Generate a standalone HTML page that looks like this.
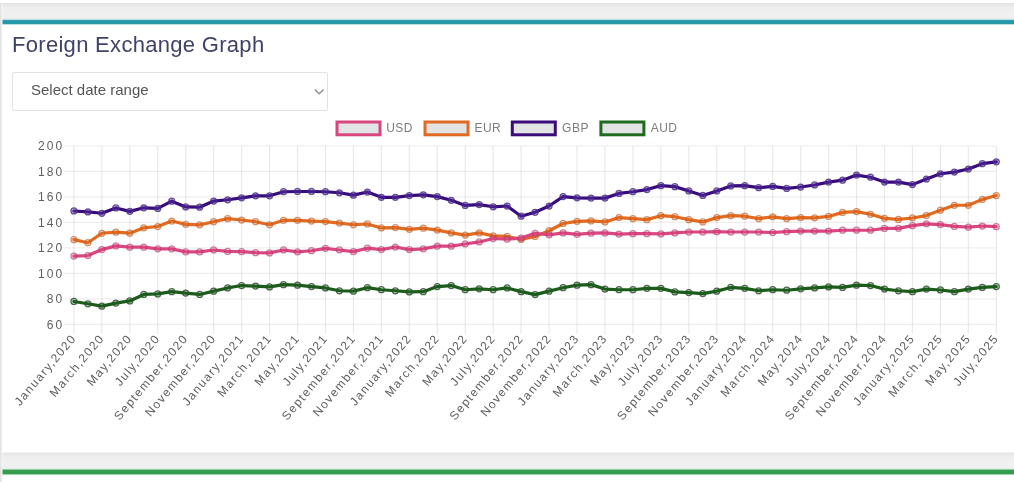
<!DOCTYPE html>
<html><head><meta charset="utf-8">
<style>
html,body{margin:0;padding:0;background:#fff;}
body{width:1014px;height:482px;overflow:hidden;position:relative;font-family:"Liberation Sans",sans-serif;}
.title{position:absolute;left:12px;top:31.5px;font-size:22px;color:#3f4365;white-space:nowrap;letter-spacing:0.3px;}
.sel{position:absolute;left:12px;top:72px;width:314px;height:37px;border:1px solid #e2e2e2;border-radius:2px;background:#fff;}
.sel span{position:absolute;left:18px;top:7.8px;font-size:15px;color:#555;white-space:nowrap;}
.topband{position:absolute;left:0;top:0;width:1014px;height:26px;background:linear-gradient(to bottom,#fff 0px,#fff 2.5px,#e3e3e3 3.5px,#e9e9e9 5px,#eeeeee 8px,#f0f0f0 18px,#d8eaee 19.3px,#279aab 20.6px,#2297a9 22.2px,#279aab 23.5px,#c8e9ed 24.6px,#fff 25.3px);}
.leftstrip{position:absolute;left:0;top:3px;width:3px;height:479px;background:linear-gradient(to right,#e0e0e0 0px,#e6e6e6 1px,#f6f6f6 2px,rgba(255,255,255,0) 3px);}
.botband{position:absolute;left:0;top:452px;width:1014px;height:30px;background:linear-gradient(to bottom,#fff 0px,#e5e5e5 1px,#ebebeb 3px,#efefef 6px,#f0f0f0 15px,#e0f0e3 16.8px,#389d51 18.3px,#349b4e 20px,#389d51 21.7px,#d5efd9 22.9px,#fff 23.6px);}
svg{position:absolute;left:0;top:0;}
.yl{font-size:12px;fill:#5f5f5f;text-anchor:end;letter-spacing:2.1px;}
.xl{font-size:12px;fill:#5f5f5f;text-anchor:end;letter-spacing:1.4px;}
.lg{font-size:12px;fill:#7c7c7c;letter-spacing:0.5px;}
</style></head>
<body>
<div id="wrap" style="position:absolute;left:0;top:0;width:1014px;height:482px;filter:blur(0.4px);">
<div class="topband"></div>
<div class="botband"></div>
<div class="leftstrip"></div>
<div class="title">Foreign Exchange Graph</div>
<div class="sel"><span>Select date range</span></div>
<svg width="1014" height="482" viewBox="0 0 1014 482" style="font-family:'Liberation Sans',sans-serif">
<path d="M314.8 89.5 L319.2 93.8 L323.6 89.5" fill="none" stroke="#8c8c8c" stroke-width="1.3"/>
<rect x="337.00" y="122" width="43" height="12.8" fill="#e2e3e3" stroke="#d9467f" stroke-width="3"/>
<text x="386.20" y="132.2" class="lg">USD</text>
<rect x="425.00" y="122" width="43" height="12.8" fill="#e2e3e3" stroke="#e06a22" stroke-width="3"/>
<text x="474.40" y="132.2" class="lg">EUR</text>
<rect x="512.30" y="122" width="43" height="12.8" fill="#e2e3e3" stroke="#3a0c7a" stroke-width="3"/>
<text x="562.10" y="132.2" class="lg">GBP</text>
<rect x="600.90" y="122" width="43" height="12.8" fill="#e2e3e3" stroke="#1e6a1e" stroke-width="3"/>
<text x="650.70" y="132.2" class="lg">AUD</text>
<line x1="63.3" y1="145.90" x2="996.30" y2="145.90" stroke="rgba(0,0,0,0.065)" stroke-width="1.2"/>
<text x="64.4" y="150.10" class="yl">200</text>
<line x1="63.3" y1="171.39" x2="996.30" y2="171.39" stroke="rgba(0,0,0,0.065)" stroke-width="1.2"/>
<text x="64.4" y="175.59" class="yl">180</text>
<line x1="63.3" y1="196.87" x2="996.30" y2="196.87" stroke="rgba(0,0,0,0.065)" stroke-width="1.2"/>
<text x="64.4" y="201.07" class="yl">160</text>
<line x1="63.3" y1="222.36" x2="996.30" y2="222.36" stroke="rgba(0,0,0,0.065)" stroke-width="1.2"/>
<text x="64.4" y="226.56" class="yl">140</text>
<line x1="63.3" y1="247.84" x2="996.30" y2="247.84" stroke="rgba(0,0,0,0.065)" stroke-width="1.2"/>
<text x="64.4" y="252.04" class="yl">120</text>
<line x1="63.3" y1="273.33" x2="996.30" y2="273.33" stroke="rgba(0,0,0,0.065)" stroke-width="1.2"/>
<text x="64.4" y="277.53" class="yl">100</text>
<line x1="63.3" y1="298.81" x2="996.30" y2="298.81" stroke="rgba(0,0,0,0.065)" stroke-width="1.2"/>
<text x="64.4" y="303.01" class="yl">80</text>
<line x1="63.3" y1="324.30" x2="996.30" y2="324.30" stroke="rgba(0,0,0,0.065)" stroke-width="1.2"/>
<text x="64.4" y="328.50" class="yl">60</text>
<line x1="73.90" y1="145.90" x2="73.90" y2="333.8" stroke="rgba(0,0,0,0.085)" stroke-width="1.2"/>
<text class="xl" transform="translate(76.90,338.5) rotate(-50)">January,2020</text>
<line x1="101.85" y1="145.90" x2="101.85" y2="333.8" stroke="rgba(0,0,0,0.085)" stroke-width="1.2"/>
<text class="xl" transform="translate(104.85,338.5) rotate(-50)">March,2020</text>
<line x1="129.80" y1="145.90" x2="129.80" y2="333.8" stroke="rgba(0,0,0,0.085)" stroke-width="1.2"/>
<text class="xl" transform="translate(132.80,338.5) rotate(-50)">May,2020</text>
<line x1="157.75" y1="145.90" x2="157.75" y2="333.8" stroke="rgba(0,0,0,0.085)" stroke-width="1.2"/>
<text class="xl" transform="translate(160.75,338.5) rotate(-50)">July,2020</text>
<line x1="185.71" y1="145.90" x2="185.71" y2="333.8" stroke="rgba(0,0,0,0.085)" stroke-width="1.2"/>
<text class="xl" transform="translate(188.71,338.5) rotate(-50)">September,2020</text>
<line x1="213.66" y1="145.90" x2="213.66" y2="333.8" stroke="rgba(0,0,0,0.085)" stroke-width="1.2"/>
<text class="xl" transform="translate(216.66,338.5) rotate(-50)">November,2020</text>
<line x1="241.61" y1="145.90" x2="241.61" y2="333.8" stroke="rgba(0,0,0,0.085)" stroke-width="1.2"/>
<text class="xl" transform="translate(244.61,338.5) rotate(-50)">January,2021</text>
<line x1="269.56" y1="145.90" x2="269.56" y2="333.8" stroke="rgba(0,0,0,0.085)" stroke-width="1.2"/>
<text class="xl" transform="translate(272.56,338.5) rotate(-50)">March,2021</text>
<line x1="297.51" y1="145.90" x2="297.51" y2="333.8" stroke="rgba(0,0,0,0.085)" stroke-width="1.2"/>
<text class="xl" transform="translate(300.51,338.5) rotate(-50)">May,2021</text>
<line x1="325.46" y1="145.90" x2="325.46" y2="333.8" stroke="rgba(0,0,0,0.085)" stroke-width="1.2"/>
<text class="xl" transform="translate(328.46,338.5) rotate(-50)">July,2021</text>
<line x1="353.42" y1="145.90" x2="353.42" y2="333.8" stroke="rgba(0,0,0,0.085)" stroke-width="1.2"/>
<text class="xl" transform="translate(356.42,338.5) rotate(-50)">September,2021</text>
<line x1="381.37" y1="145.90" x2="381.37" y2="333.8" stroke="rgba(0,0,0,0.085)" stroke-width="1.2"/>
<text class="xl" transform="translate(384.37,338.5) rotate(-50)">November,2021</text>
<line x1="409.32" y1="145.90" x2="409.32" y2="333.8" stroke="rgba(0,0,0,0.085)" stroke-width="1.2"/>
<text class="xl" transform="translate(412.32,338.5) rotate(-50)">January,2022</text>
<line x1="437.27" y1="145.90" x2="437.27" y2="333.8" stroke="rgba(0,0,0,0.085)" stroke-width="1.2"/>
<text class="xl" transform="translate(440.27,338.5) rotate(-50)">March,2022</text>
<line x1="465.22" y1="145.90" x2="465.22" y2="333.8" stroke="rgba(0,0,0,0.085)" stroke-width="1.2"/>
<text class="xl" transform="translate(468.22,338.5) rotate(-50)">May,2022</text>
<line x1="493.17" y1="145.90" x2="493.17" y2="333.8" stroke="rgba(0,0,0,0.085)" stroke-width="1.2"/>
<text class="xl" transform="translate(496.17,338.5) rotate(-50)">July,2022</text>
<line x1="521.12" y1="145.90" x2="521.12" y2="333.8" stroke="rgba(0,0,0,0.085)" stroke-width="1.2"/>
<text class="xl" transform="translate(524.12,338.5) rotate(-50)">September,2022</text>
<line x1="549.08" y1="145.90" x2="549.08" y2="333.8" stroke="rgba(0,0,0,0.085)" stroke-width="1.2"/>
<text class="xl" transform="translate(552.08,338.5) rotate(-50)">November,2022</text>
<line x1="577.03" y1="145.90" x2="577.03" y2="333.8" stroke="rgba(0,0,0,0.085)" stroke-width="1.2"/>
<text class="xl" transform="translate(580.03,338.5) rotate(-50)">January,2023</text>
<line x1="604.98" y1="145.90" x2="604.98" y2="333.8" stroke="rgba(0,0,0,0.085)" stroke-width="1.2"/>
<text class="xl" transform="translate(607.98,338.5) rotate(-50)">March,2023</text>
<line x1="632.93" y1="145.90" x2="632.93" y2="333.8" stroke="rgba(0,0,0,0.085)" stroke-width="1.2"/>
<text class="xl" transform="translate(635.93,338.5) rotate(-50)">May,2023</text>
<line x1="660.88" y1="145.90" x2="660.88" y2="333.8" stroke="rgba(0,0,0,0.085)" stroke-width="1.2"/>
<text class="xl" transform="translate(663.88,338.5) rotate(-50)">July,2023</text>
<line x1="688.83" y1="145.90" x2="688.83" y2="333.8" stroke="rgba(0,0,0,0.085)" stroke-width="1.2"/>
<text class="xl" transform="translate(691.83,338.5) rotate(-50)">September,2023</text>
<line x1="716.78" y1="145.90" x2="716.78" y2="333.8" stroke="rgba(0,0,0,0.085)" stroke-width="1.2"/>
<text class="xl" transform="translate(719.78,338.5) rotate(-50)">November,2023</text>
<line x1="744.74" y1="145.90" x2="744.74" y2="333.8" stroke="rgba(0,0,0,0.085)" stroke-width="1.2"/>
<text class="xl" transform="translate(747.74,338.5) rotate(-50)">January,2024</text>
<line x1="772.69" y1="145.90" x2="772.69" y2="333.8" stroke="rgba(0,0,0,0.085)" stroke-width="1.2"/>
<text class="xl" transform="translate(775.69,338.5) rotate(-50)">March,2024</text>
<line x1="800.64" y1="145.90" x2="800.64" y2="333.8" stroke="rgba(0,0,0,0.085)" stroke-width="1.2"/>
<text class="xl" transform="translate(803.64,338.5) rotate(-50)">May,2024</text>
<line x1="828.59" y1="145.90" x2="828.59" y2="333.8" stroke="rgba(0,0,0,0.085)" stroke-width="1.2"/>
<text class="xl" transform="translate(831.59,338.5) rotate(-50)">July,2024</text>
<line x1="856.54" y1="145.90" x2="856.54" y2="333.8" stroke="rgba(0,0,0,0.085)" stroke-width="1.2"/>
<text class="xl" transform="translate(859.54,338.5) rotate(-50)">September,2024</text>
<line x1="884.49" y1="145.90" x2="884.49" y2="333.8" stroke="rgba(0,0,0,0.085)" stroke-width="1.2"/>
<text class="xl" transform="translate(887.49,338.5) rotate(-50)">November,2024</text>
<line x1="912.45" y1="145.90" x2="912.45" y2="333.8" stroke="rgba(0,0,0,0.085)" stroke-width="1.2"/>
<text class="xl" transform="translate(915.45,338.5) rotate(-50)">January,2025</text>
<line x1="940.40" y1="145.90" x2="940.40" y2="333.8" stroke="rgba(0,0,0,0.085)" stroke-width="1.2"/>
<text class="xl" transform="translate(943.40,338.5) rotate(-50)">March,2025</text>
<line x1="968.35" y1="145.90" x2="968.35" y2="333.8" stroke="rgba(0,0,0,0.085)" stroke-width="1.2"/>
<text class="xl" transform="translate(971.35,338.5) rotate(-50)">May,2025</text>
<line x1="996.30" y1="145.90" x2="996.30" y2="333.8" stroke="rgba(0,0,0,0.085)" stroke-width="1.2"/>
<text class="xl" transform="translate(999.30,338.5) rotate(-50)">July,2025</text>
<polyline points="73.90,301.46 87.88,303.75 101.85,306.17 115.83,303.11 129.80,300.95 143.78,294.45 157.75,293.94 171.73,291.65 185.71,293.05 199.68,294.45 213.66,291.14 227.63,287.95 241.61,285.53 255.58,286.04 269.56,286.93 283.54,284.64 297.51,285.15 311.49,286.55 325.46,287.95 339.44,290.75 353.42,291.14 367.39,287.70 381.37,289.73 395.34,290.75 409.32,291.90 423.29,291.65 437.27,286.55 451.25,285.53 465.22,289.73 479.20,288.84 493.17,289.73 507.15,287.95 521.12,291.65 535.10,294.58 549.08,291.14 563.05,287.70 577.03,285.15 591.00,284.64 604.98,289.10 618.95,289.73 632.93,289.73 646.91,288.33 660.88,288.33 674.86,291.90 688.83,292.54 702.81,293.56 716.78,291.14 730.76,287.44 744.74,288.33 758.71,290.75 772.69,289.73 786.66,290.24 800.64,288.84 814.62,287.95 828.59,286.93 842.57,287.44 856.54,285.15 870.52,285.53 884.49,289.10 898.47,290.75 912.45,291.65 926.42,289.10 940.40,289.99 954.37,291.65 968.35,289.10 982.32,287.44 996.30,286.55" fill="none" stroke="#195d19" stroke-width="3.2" stroke-linejoin="round" stroke-linecap="round"/>
<circle cx="73.90" cy="301.46" r="3.0" fill="rgba(27,98,27,0.18)" stroke="rgba(45,80,45,0.85)" stroke-width="1.25"/>
<circle cx="87.88" cy="303.75" r="3.0" fill="rgba(27,98,27,0.18)" stroke="rgba(45,80,45,0.85)" stroke-width="1.25"/>
<circle cx="101.85" cy="306.17" r="3.0" fill="rgba(27,98,27,0.18)" stroke="rgba(45,80,45,0.85)" stroke-width="1.25"/>
<circle cx="115.83" cy="303.11" r="3.0" fill="rgba(27,98,27,0.18)" stroke="rgba(45,80,45,0.85)" stroke-width="1.25"/>
<circle cx="129.80" cy="300.95" r="3.0" fill="rgba(27,98,27,0.18)" stroke="rgba(45,80,45,0.85)" stroke-width="1.25"/>
<circle cx="143.78" cy="294.45" r="3.0" fill="rgba(27,98,27,0.18)" stroke="rgba(45,80,45,0.85)" stroke-width="1.25"/>
<circle cx="157.75" cy="293.94" r="3.0" fill="rgba(27,98,27,0.18)" stroke="rgba(45,80,45,0.85)" stroke-width="1.25"/>
<circle cx="171.73" cy="291.65" r="3.0" fill="rgba(27,98,27,0.18)" stroke="rgba(45,80,45,0.85)" stroke-width="1.25"/>
<circle cx="185.71" cy="293.05" r="3.0" fill="rgba(27,98,27,0.18)" stroke="rgba(45,80,45,0.85)" stroke-width="1.25"/>
<circle cx="199.68" cy="294.45" r="3.0" fill="rgba(27,98,27,0.18)" stroke="rgba(45,80,45,0.85)" stroke-width="1.25"/>
<circle cx="213.66" cy="291.14" r="3.0" fill="rgba(27,98,27,0.18)" stroke="rgba(45,80,45,0.85)" stroke-width="1.25"/>
<circle cx="227.63" cy="287.95" r="3.0" fill="rgba(27,98,27,0.18)" stroke="rgba(45,80,45,0.85)" stroke-width="1.25"/>
<circle cx="241.61" cy="285.53" r="3.0" fill="rgba(27,98,27,0.18)" stroke="rgba(45,80,45,0.85)" stroke-width="1.25"/>
<circle cx="255.58" cy="286.04" r="3.0" fill="rgba(27,98,27,0.18)" stroke="rgba(45,80,45,0.85)" stroke-width="1.25"/>
<circle cx="269.56" cy="286.93" r="3.0" fill="rgba(27,98,27,0.18)" stroke="rgba(45,80,45,0.85)" stroke-width="1.25"/>
<circle cx="283.54" cy="284.64" r="3.0" fill="rgba(27,98,27,0.18)" stroke="rgba(45,80,45,0.85)" stroke-width="1.25"/>
<circle cx="297.51" cy="285.15" r="3.0" fill="rgba(27,98,27,0.18)" stroke="rgba(45,80,45,0.85)" stroke-width="1.25"/>
<circle cx="311.49" cy="286.55" r="3.0" fill="rgba(27,98,27,0.18)" stroke="rgba(45,80,45,0.85)" stroke-width="1.25"/>
<circle cx="325.46" cy="287.95" r="3.0" fill="rgba(27,98,27,0.18)" stroke="rgba(45,80,45,0.85)" stroke-width="1.25"/>
<circle cx="339.44" cy="290.75" r="3.0" fill="rgba(27,98,27,0.18)" stroke="rgba(45,80,45,0.85)" stroke-width="1.25"/>
<circle cx="353.42" cy="291.14" r="3.0" fill="rgba(27,98,27,0.18)" stroke="rgba(45,80,45,0.85)" stroke-width="1.25"/>
<circle cx="367.39" cy="287.70" r="3.0" fill="rgba(27,98,27,0.18)" stroke="rgba(45,80,45,0.85)" stroke-width="1.25"/>
<circle cx="381.37" cy="289.73" r="3.0" fill="rgba(27,98,27,0.18)" stroke="rgba(45,80,45,0.85)" stroke-width="1.25"/>
<circle cx="395.34" cy="290.75" r="3.0" fill="rgba(27,98,27,0.18)" stroke="rgba(45,80,45,0.85)" stroke-width="1.25"/>
<circle cx="409.32" cy="291.90" r="3.0" fill="rgba(27,98,27,0.18)" stroke="rgba(45,80,45,0.85)" stroke-width="1.25"/>
<circle cx="423.29" cy="291.65" r="3.0" fill="rgba(27,98,27,0.18)" stroke="rgba(45,80,45,0.85)" stroke-width="1.25"/>
<circle cx="437.27" cy="286.55" r="3.0" fill="rgba(27,98,27,0.18)" stroke="rgba(45,80,45,0.85)" stroke-width="1.25"/>
<circle cx="451.25" cy="285.53" r="3.0" fill="rgba(27,98,27,0.18)" stroke="rgba(45,80,45,0.85)" stroke-width="1.25"/>
<circle cx="465.22" cy="289.73" r="3.0" fill="rgba(27,98,27,0.18)" stroke="rgba(45,80,45,0.85)" stroke-width="1.25"/>
<circle cx="479.20" cy="288.84" r="3.0" fill="rgba(27,98,27,0.18)" stroke="rgba(45,80,45,0.85)" stroke-width="1.25"/>
<circle cx="493.17" cy="289.73" r="3.0" fill="rgba(27,98,27,0.18)" stroke="rgba(45,80,45,0.85)" stroke-width="1.25"/>
<circle cx="507.15" cy="287.95" r="3.0" fill="rgba(27,98,27,0.18)" stroke="rgba(45,80,45,0.85)" stroke-width="1.25"/>
<circle cx="521.12" cy="291.65" r="3.0" fill="rgba(27,98,27,0.18)" stroke="rgba(45,80,45,0.85)" stroke-width="1.25"/>
<circle cx="535.10" cy="294.58" r="3.0" fill="rgba(27,98,27,0.18)" stroke="rgba(45,80,45,0.85)" stroke-width="1.25"/>
<circle cx="549.08" cy="291.14" r="3.0" fill="rgba(27,98,27,0.18)" stroke="rgba(45,80,45,0.85)" stroke-width="1.25"/>
<circle cx="563.05" cy="287.70" r="3.0" fill="rgba(27,98,27,0.18)" stroke="rgba(45,80,45,0.85)" stroke-width="1.25"/>
<circle cx="577.03" cy="285.15" r="3.0" fill="rgba(27,98,27,0.18)" stroke="rgba(45,80,45,0.85)" stroke-width="1.25"/>
<circle cx="591.00" cy="284.64" r="3.0" fill="rgba(27,98,27,0.18)" stroke="rgba(45,80,45,0.85)" stroke-width="1.25"/>
<circle cx="604.98" cy="289.10" r="3.0" fill="rgba(27,98,27,0.18)" stroke="rgba(45,80,45,0.85)" stroke-width="1.25"/>
<circle cx="618.95" cy="289.73" r="3.0" fill="rgba(27,98,27,0.18)" stroke="rgba(45,80,45,0.85)" stroke-width="1.25"/>
<circle cx="632.93" cy="289.73" r="3.0" fill="rgba(27,98,27,0.18)" stroke="rgba(45,80,45,0.85)" stroke-width="1.25"/>
<circle cx="646.91" cy="288.33" r="3.0" fill="rgba(27,98,27,0.18)" stroke="rgba(45,80,45,0.85)" stroke-width="1.25"/>
<circle cx="660.88" cy="288.33" r="3.0" fill="rgba(27,98,27,0.18)" stroke="rgba(45,80,45,0.85)" stroke-width="1.25"/>
<circle cx="674.86" cy="291.90" r="3.0" fill="rgba(27,98,27,0.18)" stroke="rgba(45,80,45,0.85)" stroke-width="1.25"/>
<circle cx="688.83" cy="292.54" r="3.0" fill="rgba(27,98,27,0.18)" stroke="rgba(45,80,45,0.85)" stroke-width="1.25"/>
<circle cx="702.81" cy="293.56" r="3.0" fill="rgba(27,98,27,0.18)" stroke="rgba(45,80,45,0.85)" stroke-width="1.25"/>
<circle cx="716.78" cy="291.14" r="3.0" fill="rgba(27,98,27,0.18)" stroke="rgba(45,80,45,0.85)" stroke-width="1.25"/>
<circle cx="730.76" cy="287.44" r="3.0" fill="rgba(27,98,27,0.18)" stroke="rgba(45,80,45,0.85)" stroke-width="1.25"/>
<circle cx="744.74" cy="288.33" r="3.0" fill="rgba(27,98,27,0.18)" stroke="rgba(45,80,45,0.85)" stroke-width="1.25"/>
<circle cx="758.71" cy="290.75" r="3.0" fill="rgba(27,98,27,0.18)" stroke="rgba(45,80,45,0.85)" stroke-width="1.25"/>
<circle cx="772.69" cy="289.73" r="3.0" fill="rgba(27,98,27,0.18)" stroke="rgba(45,80,45,0.85)" stroke-width="1.25"/>
<circle cx="786.66" cy="290.24" r="3.0" fill="rgba(27,98,27,0.18)" stroke="rgba(45,80,45,0.85)" stroke-width="1.25"/>
<circle cx="800.64" cy="288.84" r="3.0" fill="rgba(27,98,27,0.18)" stroke="rgba(45,80,45,0.85)" stroke-width="1.25"/>
<circle cx="814.62" cy="287.95" r="3.0" fill="rgba(27,98,27,0.18)" stroke="rgba(45,80,45,0.85)" stroke-width="1.25"/>
<circle cx="828.59" cy="286.93" r="3.0" fill="rgba(27,98,27,0.18)" stroke="rgba(45,80,45,0.85)" stroke-width="1.25"/>
<circle cx="842.57" cy="287.44" r="3.0" fill="rgba(27,98,27,0.18)" stroke="rgba(45,80,45,0.85)" stroke-width="1.25"/>
<circle cx="856.54" cy="285.15" r="3.0" fill="rgba(27,98,27,0.18)" stroke="rgba(45,80,45,0.85)" stroke-width="1.25"/>
<circle cx="870.52" cy="285.53" r="3.0" fill="rgba(27,98,27,0.18)" stroke="rgba(45,80,45,0.85)" stroke-width="1.25"/>
<circle cx="884.49" cy="289.10" r="3.0" fill="rgba(27,98,27,0.18)" stroke="rgba(45,80,45,0.85)" stroke-width="1.25"/>
<circle cx="898.47" cy="290.75" r="3.0" fill="rgba(27,98,27,0.18)" stroke="rgba(45,80,45,0.85)" stroke-width="1.25"/>
<circle cx="912.45" cy="291.65" r="3.0" fill="rgba(27,98,27,0.18)" stroke="rgba(45,80,45,0.85)" stroke-width="1.25"/>
<circle cx="926.42" cy="289.10" r="3.0" fill="rgba(27,98,27,0.18)" stroke="rgba(45,80,45,0.85)" stroke-width="1.25"/>
<circle cx="940.40" cy="289.99" r="3.0" fill="rgba(27,98,27,0.18)" stroke="rgba(45,80,45,0.85)" stroke-width="1.25"/>
<circle cx="954.37" cy="291.65" r="3.0" fill="rgba(27,98,27,0.18)" stroke="rgba(45,80,45,0.85)" stroke-width="1.25"/>
<circle cx="968.35" cy="289.10" r="3.0" fill="rgba(27,98,27,0.18)" stroke="rgba(45,80,45,0.85)" stroke-width="1.25"/>
<circle cx="982.32" cy="287.44" r="3.0" fill="rgba(27,98,27,0.18)" stroke="rgba(45,80,45,0.85)" stroke-width="1.25"/>
<circle cx="996.30" cy="286.55" r="3.0" fill="rgba(27,98,27,0.18)" stroke="rgba(45,80,45,0.85)" stroke-width="1.25"/>
<polyline points="73.90,210.98 87.88,211.88 101.85,213.28 115.83,207.93 129.80,211.37 143.78,207.80 157.75,208.44 171.73,201.17 185.71,206.91 199.68,207.16 213.66,201.04 227.63,199.77 241.61,197.86 255.58,195.82 269.56,195.82 283.54,191.74 297.51,191.49 311.49,191.49 325.46,191.74 339.44,192.76 353.42,195.18 367.39,192.00 381.37,197.35 395.34,197.35 409.32,195.56 423.29,194.80 437.27,196.58 451.25,200.28 465.22,205.38 479.20,204.61 493.17,206.78 507.15,206.01 521.12,216.21 535.10,212.26 549.08,206.01 563.05,196.58 577.03,197.86 591.00,198.11 604.98,198.11 618.95,193.40 632.93,191.74 646.91,189.58 660.88,185.63 674.86,186.64 688.83,190.98 702.81,195.44 716.78,190.98 730.76,185.88 744.74,185.63 758.71,187.66 772.69,186.39 786.66,188.43 800.64,187.03 814.62,184.99 828.59,182.06 842.57,180.15 856.54,175.05 870.52,177.22 884.49,182.06 898.47,182.06 912.45,184.61 926.42,179.00 940.40,173.77 954.37,172.12 968.35,169.06 982.32,163.71 996.30,161.80" fill="none" stroke="#380c80" stroke-width="3.2" stroke-linejoin="round" stroke-linecap="round"/>
<circle cx="73.90" cy="210.98" r="3.0" fill="rgba(90,50,170,0.4)" stroke="rgba(75,45,125,0.8)" stroke-width="1.25"/>
<circle cx="87.88" cy="211.88" r="3.0" fill="rgba(90,50,170,0.4)" stroke="rgba(75,45,125,0.8)" stroke-width="1.25"/>
<circle cx="101.85" cy="213.28" r="3.0" fill="rgba(90,50,170,0.4)" stroke="rgba(75,45,125,0.8)" stroke-width="1.25"/>
<circle cx="115.83" cy="207.93" r="3.0" fill="rgba(90,50,170,0.4)" stroke="rgba(75,45,125,0.8)" stroke-width="1.25"/>
<circle cx="129.80" cy="211.37" r="3.0" fill="rgba(90,50,170,0.4)" stroke="rgba(75,45,125,0.8)" stroke-width="1.25"/>
<circle cx="143.78" cy="207.80" r="3.0" fill="rgba(90,50,170,0.4)" stroke="rgba(75,45,125,0.8)" stroke-width="1.25"/>
<circle cx="157.75" cy="208.44" r="3.0" fill="rgba(90,50,170,0.4)" stroke="rgba(75,45,125,0.8)" stroke-width="1.25"/>
<circle cx="171.73" cy="201.17" r="3.0" fill="rgba(90,50,170,0.4)" stroke="rgba(75,45,125,0.8)" stroke-width="1.25"/>
<circle cx="185.71" cy="206.91" r="3.0" fill="rgba(90,50,170,0.4)" stroke="rgba(75,45,125,0.8)" stroke-width="1.25"/>
<circle cx="199.68" cy="207.16" r="3.0" fill="rgba(90,50,170,0.4)" stroke="rgba(75,45,125,0.8)" stroke-width="1.25"/>
<circle cx="213.66" cy="201.04" r="3.0" fill="rgba(90,50,170,0.4)" stroke="rgba(75,45,125,0.8)" stroke-width="1.25"/>
<circle cx="227.63" cy="199.77" r="3.0" fill="rgba(90,50,170,0.4)" stroke="rgba(75,45,125,0.8)" stroke-width="1.25"/>
<circle cx="241.61" cy="197.86" r="3.0" fill="rgba(90,50,170,0.4)" stroke="rgba(75,45,125,0.8)" stroke-width="1.25"/>
<circle cx="255.58" cy="195.82" r="3.0" fill="rgba(90,50,170,0.4)" stroke="rgba(75,45,125,0.8)" stroke-width="1.25"/>
<circle cx="269.56" cy="195.82" r="3.0" fill="rgba(90,50,170,0.4)" stroke="rgba(75,45,125,0.8)" stroke-width="1.25"/>
<circle cx="283.54" cy="191.74" r="3.0" fill="rgba(90,50,170,0.4)" stroke="rgba(75,45,125,0.8)" stroke-width="1.25"/>
<circle cx="297.51" cy="191.49" r="3.0" fill="rgba(90,50,170,0.4)" stroke="rgba(75,45,125,0.8)" stroke-width="1.25"/>
<circle cx="311.49" cy="191.49" r="3.0" fill="rgba(90,50,170,0.4)" stroke="rgba(75,45,125,0.8)" stroke-width="1.25"/>
<circle cx="325.46" cy="191.74" r="3.0" fill="rgba(90,50,170,0.4)" stroke="rgba(75,45,125,0.8)" stroke-width="1.25"/>
<circle cx="339.44" cy="192.76" r="3.0" fill="rgba(90,50,170,0.4)" stroke="rgba(75,45,125,0.8)" stroke-width="1.25"/>
<circle cx="353.42" cy="195.18" r="3.0" fill="rgba(90,50,170,0.4)" stroke="rgba(75,45,125,0.8)" stroke-width="1.25"/>
<circle cx="367.39" cy="192.00" r="3.0" fill="rgba(90,50,170,0.4)" stroke="rgba(75,45,125,0.8)" stroke-width="1.25"/>
<circle cx="381.37" cy="197.35" r="3.0" fill="rgba(90,50,170,0.4)" stroke="rgba(75,45,125,0.8)" stroke-width="1.25"/>
<circle cx="395.34" cy="197.35" r="3.0" fill="rgba(90,50,170,0.4)" stroke="rgba(75,45,125,0.8)" stroke-width="1.25"/>
<circle cx="409.32" cy="195.56" r="3.0" fill="rgba(90,50,170,0.4)" stroke="rgba(75,45,125,0.8)" stroke-width="1.25"/>
<circle cx="423.29" cy="194.80" r="3.0" fill="rgba(90,50,170,0.4)" stroke="rgba(75,45,125,0.8)" stroke-width="1.25"/>
<circle cx="437.27" cy="196.58" r="3.0" fill="rgba(90,50,170,0.4)" stroke="rgba(75,45,125,0.8)" stroke-width="1.25"/>
<circle cx="451.25" cy="200.28" r="3.0" fill="rgba(90,50,170,0.4)" stroke="rgba(75,45,125,0.8)" stroke-width="1.25"/>
<circle cx="465.22" cy="205.38" r="3.0" fill="rgba(90,50,170,0.4)" stroke="rgba(75,45,125,0.8)" stroke-width="1.25"/>
<circle cx="479.20" cy="204.61" r="3.0" fill="rgba(90,50,170,0.4)" stroke="rgba(75,45,125,0.8)" stroke-width="1.25"/>
<circle cx="493.17" cy="206.78" r="3.0" fill="rgba(90,50,170,0.4)" stroke="rgba(75,45,125,0.8)" stroke-width="1.25"/>
<circle cx="507.15" cy="206.01" r="3.0" fill="rgba(90,50,170,0.4)" stroke="rgba(75,45,125,0.8)" stroke-width="1.25"/>
<circle cx="521.12" cy="216.21" r="3.0" fill="rgba(90,50,170,0.4)" stroke="rgba(75,45,125,0.8)" stroke-width="1.25"/>
<circle cx="535.10" cy="212.26" r="3.0" fill="rgba(90,50,170,0.4)" stroke="rgba(75,45,125,0.8)" stroke-width="1.25"/>
<circle cx="549.08" cy="206.01" r="3.0" fill="rgba(90,50,170,0.4)" stroke="rgba(75,45,125,0.8)" stroke-width="1.25"/>
<circle cx="563.05" cy="196.58" r="3.0" fill="rgba(90,50,170,0.4)" stroke="rgba(75,45,125,0.8)" stroke-width="1.25"/>
<circle cx="577.03" cy="197.86" r="3.0" fill="rgba(90,50,170,0.4)" stroke="rgba(75,45,125,0.8)" stroke-width="1.25"/>
<circle cx="591.00" cy="198.11" r="3.0" fill="rgba(90,50,170,0.4)" stroke="rgba(75,45,125,0.8)" stroke-width="1.25"/>
<circle cx="604.98" cy="198.11" r="3.0" fill="rgba(90,50,170,0.4)" stroke="rgba(75,45,125,0.8)" stroke-width="1.25"/>
<circle cx="618.95" cy="193.40" r="3.0" fill="rgba(90,50,170,0.4)" stroke="rgba(75,45,125,0.8)" stroke-width="1.25"/>
<circle cx="632.93" cy="191.74" r="3.0" fill="rgba(90,50,170,0.4)" stroke="rgba(75,45,125,0.8)" stroke-width="1.25"/>
<circle cx="646.91" cy="189.58" r="3.0" fill="rgba(90,50,170,0.4)" stroke="rgba(75,45,125,0.8)" stroke-width="1.25"/>
<circle cx="660.88" cy="185.63" r="3.0" fill="rgba(90,50,170,0.4)" stroke="rgba(75,45,125,0.8)" stroke-width="1.25"/>
<circle cx="674.86" cy="186.64" r="3.0" fill="rgba(90,50,170,0.4)" stroke="rgba(75,45,125,0.8)" stroke-width="1.25"/>
<circle cx="688.83" cy="190.98" r="3.0" fill="rgba(90,50,170,0.4)" stroke="rgba(75,45,125,0.8)" stroke-width="1.25"/>
<circle cx="702.81" cy="195.44" r="3.0" fill="rgba(90,50,170,0.4)" stroke="rgba(75,45,125,0.8)" stroke-width="1.25"/>
<circle cx="716.78" cy="190.98" r="3.0" fill="rgba(90,50,170,0.4)" stroke="rgba(75,45,125,0.8)" stroke-width="1.25"/>
<circle cx="730.76" cy="185.88" r="3.0" fill="rgba(90,50,170,0.4)" stroke="rgba(75,45,125,0.8)" stroke-width="1.25"/>
<circle cx="744.74" cy="185.63" r="3.0" fill="rgba(90,50,170,0.4)" stroke="rgba(75,45,125,0.8)" stroke-width="1.25"/>
<circle cx="758.71" cy="187.66" r="3.0" fill="rgba(90,50,170,0.4)" stroke="rgba(75,45,125,0.8)" stroke-width="1.25"/>
<circle cx="772.69" cy="186.39" r="3.0" fill="rgba(90,50,170,0.4)" stroke="rgba(75,45,125,0.8)" stroke-width="1.25"/>
<circle cx="786.66" cy="188.43" r="3.0" fill="rgba(90,50,170,0.4)" stroke="rgba(75,45,125,0.8)" stroke-width="1.25"/>
<circle cx="800.64" cy="187.03" r="3.0" fill="rgba(90,50,170,0.4)" stroke="rgba(75,45,125,0.8)" stroke-width="1.25"/>
<circle cx="814.62" cy="184.99" r="3.0" fill="rgba(90,50,170,0.4)" stroke="rgba(75,45,125,0.8)" stroke-width="1.25"/>
<circle cx="828.59" cy="182.06" r="3.0" fill="rgba(90,50,170,0.4)" stroke="rgba(75,45,125,0.8)" stroke-width="1.25"/>
<circle cx="842.57" cy="180.15" r="3.0" fill="rgba(90,50,170,0.4)" stroke="rgba(75,45,125,0.8)" stroke-width="1.25"/>
<circle cx="856.54" cy="175.05" r="3.0" fill="rgba(90,50,170,0.4)" stroke="rgba(75,45,125,0.8)" stroke-width="1.25"/>
<circle cx="870.52" cy="177.22" r="3.0" fill="rgba(90,50,170,0.4)" stroke="rgba(75,45,125,0.8)" stroke-width="1.25"/>
<circle cx="884.49" cy="182.06" r="3.0" fill="rgba(90,50,170,0.4)" stroke="rgba(75,45,125,0.8)" stroke-width="1.25"/>
<circle cx="898.47" cy="182.06" r="3.0" fill="rgba(90,50,170,0.4)" stroke="rgba(75,45,125,0.8)" stroke-width="1.25"/>
<circle cx="912.45" cy="184.61" r="3.0" fill="rgba(90,50,170,0.4)" stroke="rgba(75,45,125,0.8)" stroke-width="1.25"/>
<circle cx="926.42" cy="179.00" r="3.0" fill="rgba(90,50,170,0.4)" stroke="rgba(75,45,125,0.8)" stroke-width="1.25"/>
<circle cx="940.40" cy="173.77" r="3.0" fill="rgba(90,50,170,0.4)" stroke="rgba(75,45,125,0.8)" stroke-width="1.25"/>
<circle cx="954.37" cy="172.12" r="3.0" fill="rgba(90,50,170,0.4)" stroke="rgba(75,45,125,0.8)" stroke-width="1.25"/>
<circle cx="968.35" cy="169.06" r="3.0" fill="rgba(90,50,170,0.4)" stroke="rgba(75,45,125,0.8)" stroke-width="1.25"/>
<circle cx="982.32" cy="163.71" r="3.0" fill="rgba(90,50,170,0.4)" stroke="rgba(75,45,125,0.8)" stroke-width="1.25"/>
<circle cx="996.30" cy="161.80" r="3.0" fill="rgba(90,50,170,0.4)" stroke="rgba(75,45,125,0.8)" stroke-width="1.25"/>
<polyline points="73.90,239.66 87.88,242.71 101.85,233.28 115.83,232.14 129.80,233.16 143.78,227.80 157.75,226.53 171.73,221.05 185.71,224.36 199.68,224.87 213.66,221.69 227.63,218.63 241.61,220.03 255.58,221.69 269.56,224.75 283.54,220.29 297.51,220.29 311.49,221.05 325.46,221.56 339.44,223.09 353.42,224.75 367.39,223.98 381.37,227.93 395.34,227.55 409.32,229.33 423.29,228.19 437.27,230.10 451.25,232.90 465.22,235.07 479.20,232.90 493.17,235.83 507.15,236.47 521.12,239.40 535.10,236.47 549.08,230.74 563.05,223.47 577.03,221.31 591.00,220.92 604.98,221.94 618.95,217.61 632.93,218.63 646.91,219.65 660.88,215.70 674.86,216.72 688.83,219.65 702.81,221.94 716.78,217.61 730.76,215.70 744.74,216.21 758.71,218.63 772.69,216.85 786.66,218.63 800.64,217.61 814.62,217.86 828.59,216.46 842.57,212.39 856.54,211.62 870.52,214.30 884.49,218.37 898.47,219.39 912.45,217.99 926.42,215.57 940.40,210.22 954.37,205.25 968.35,205.25 982.32,199.39 996.30,195.56" fill="none" stroke="#e66a1e" stroke-width="3.2" stroke-linejoin="round" stroke-linecap="round"/>
<circle cx="73.90" cy="239.66" r="3.0" fill="rgba(230,106,30,0.18)" stroke="rgba(185,95,45,0.65)" stroke-width="1.25"/>
<circle cx="87.88" cy="242.71" r="3.0" fill="rgba(230,106,30,0.18)" stroke="rgba(185,95,45,0.65)" stroke-width="1.25"/>
<circle cx="101.85" cy="233.28" r="3.0" fill="rgba(230,106,30,0.18)" stroke="rgba(185,95,45,0.65)" stroke-width="1.25"/>
<circle cx="115.83" cy="232.14" r="3.0" fill="rgba(230,106,30,0.18)" stroke="rgba(185,95,45,0.65)" stroke-width="1.25"/>
<circle cx="129.80" cy="233.16" r="3.0" fill="rgba(230,106,30,0.18)" stroke="rgba(185,95,45,0.65)" stroke-width="1.25"/>
<circle cx="143.78" cy="227.80" r="3.0" fill="rgba(230,106,30,0.18)" stroke="rgba(185,95,45,0.65)" stroke-width="1.25"/>
<circle cx="157.75" cy="226.53" r="3.0" fill="rgba(230,106,30,0.18)" stroke="rgba(185,95,45,0.65)" stroke-width="1.25"/>
<circle cx="171.73" cy="221.05" r="3.0" fill="rgba(230,106,30,0.18)" stroke="rgba(185,95,45,0.65)" stroke-width="1.25"/>
<circle cx="185.71" cy="224.36" r="3.0" fill="rgba(230,106,30,0.18)" stroke="rgba(185,95,45,0.65)" stroke-width="1.25"/>
<circle cx="199.68" cy="224.87" r="3.0" fill="rgba(230,106,30,0.18)" stroke="rgba(185,95,45,0.65)" stroke-width="1.25"/>
<circle cx="213.66" cy="221.69" r="3.0" fill="rgba(230,106,30,0.18)" stroke="rgba(185,95,45,0.65)" stroke-width="1.25"/>
<circle cx="227.63" cy="218.63" r="3.0" fill="rgba(230,106,30,0.18)" stroke="rgba(185,95,45,0.65)" stroke-width="1.25"/>
<circle cx="241.61" cy="220.03" r="3.0" fill="rgba(230,106,30,0.18)" stroke="rgba(185,95,45,0.65)" stroke-width="1.25"/>
<circle cx="255.58" cy="221.69" r="3.0" fill="rgba(230,106,30,0.18)" stroke="rgba(185,95,45,0.65)" stroke-width="1.25"/>
<circle cx="269.56" cy="224.75" r="3.0" fill="rgba(230,106,30,0.18)" stroke="rgba(185,95,45,0.65)" stroke-width="1.25"/>
<circle cx="283.54" cy="220.29" r="3.0" fill="rgba(230,106,30,0.18)" stroke="rgba(185,95,45,0.65)" stroke-width="1.25"/>
<circle cx="297.51" cy="220.29" r="3.0" fill="rgba(230,106,30,0.18)" stroke="rgba(185,95,45,0.65)" stroke-width="1.25"/>
<circle cx="311.49" cy="221.05" r="3.0" fill="rgba(230,106,30,0.18)" stroke="rgba(185,95,45,0.65)" stroke-width="1.25"/>
<circle cx="325.46" cy="221.56" r="3.0" fill="rgba(230,106,30,0.18)" stroke="rgba(185,95,45,0.65)" stroke-width="1.25"/>
<circle cx="339.44" cy="223.09" r="3.0" fill="rgba(230,106,30,0.18)" stroke="rgba(185,95,45,0.65)" stroke-width="1.25"/>
<circle cx="353.42" cy="224.75" r="3.0" fill="rgba(230,106,30,0.18)" stroke="rgba(185,95,45,0.65)" stroke-width="1.25"/>
<circle cx="367.39" cy="223.98" r="3.0" fill="rgba(230,106,30,0.18)" stroke="rgba(185,95,45,0.65)" stroke-width="1.25"/>
<circle cx="381.37" cy="227.93" r="3.0" fill="rgba(230,106,30,0.18)" stroke="rgba(185,95,45,0.65)" stroke-width="1.25"/>
<circle cx="395.34" cy="227.55" r="3.0" fill="rgba(230,106,30,0.18)" stroke="rgba(185,95,45,0.65)" stroke-width="1.25"/>
<circle cx="409.32" cy="229.33" r="3.0" fill="rgba(230,106,30,0.18)" stroke="rgba(185,95,45,0.65)" stroke-width="1.25"/>
<circle cx="423.29" cy="228.19" r="3.0" fill="rgba(230,106,30,0.18)" stroke="rgba(185,95,45,0.65)" stroke-width="1.25"/>
<circle cx="437.27" cy="230.10" r="3.0" fill="rgba(230,106,30,0.18)" stroke="rgba(185,95,45,0.65)" stroke-width="1.25"/>
<circle cx="451.25" cy="232.90" r="3.0" fill="rgba(230,106,30,0.18)" stroke="rgba(185,95,45,0.65)" stroke-width="1.25"/>
<circle cx="465.22" cy="235.07" r="3.0" fill="rgba(230,106,30,0.18)" stroke="rgba(185,95,45,0.65)" stroke-width="1.25"/>
<circle cx="479.20" cy="232.90" r="3.0" fill="rgba(230,106,30,0.18)" stroke="rgba(185,95,45,0.65)" stroke-width="1.25"/>
<circle cx="493.17" cy="235.83" r="3.0" fill="rgba(230,106,30,0.18)" stroke="rgba(185,95,45,0.65)" stroke-width="1.25"/>
<circle cx="507.15" cy="236.47" r="3.0" fill="rgba(230,106,30,0.18)" stroke="rgba(185,95,45,0.65)" stroke-width="1.25"/>
<circle cx="521.12" cy="239.40" r="3.0" fill="rgba(230,106,30,0.18)" stroke="rgba(185,95,45,0.65)" stroke-width="1.25"/>
<circle cx="535.10" cy="236.47" r="3.0" fill="rgba(230,106,30,0.18)" stroke="rgba(185,95,45,0.65)" stroke-width="1.25"/>
<circle cx="549.08" cy="230.74" r="3.0" fill="rgba(230,106,30,0.18)" stroke="rgba(185,95,45,0.65)" stroke-width="1.25"/>
<circle cx="563.05" cy="223.47" r="3.0" fill="rgba(230,106,30,0.18)" stroke="rgba(185,95,45,0.65)" stroke-width="1.25"/>
<circle cx="577.03" cy="221.31" r="3.0" fill="rgba(230,106,30,0.18)" stroke="rgba(185,95,45,0.65)" stroke-width="1.25"/>
<circle cx="591.00" cy="220.92" r="3.0" fill="rgba(230,106,30,0.18)" stroke="rgba(185,95,45,0.65)" stroke-width="1.25"/>
<circle cx="604.98" cy="221.94" r="3.0" fill="rgba(230,106,30,0.18)" stroke="rgba(185,95,45,0.65)" stroke-width="1.25"/>
<circle cx="618.95" cy="217.61" r="3.0" fill="rgba(230,106,30,0.18)" stroke="rgba(185,95,45,0.65)" stroke-width="1.25"/>
<circle cx="632.93" cy="218.63" r="3.0" fill="rgba(230,106,30,0.18)" stroke="rgba(185,95,45,0.65)" stroke-width="1.25"/>
<circle cx="646.91" cy="219.65" r="3.0" fill="rgba(230,106,30,0.18)" stroke="rgba(185,95,45,0.65)" stroke-width="1.25"/>
<circle cx="660.88" cy="215.70" r="3.0" fill="rgba(230,106,30,0.18)" stroke="rgba(185,95,45,0.65)" stroke-width="1.25"/>
<circle cx="674.86" cy="216.72" r="3.0" fill="rgba(230,106,30,0.18)" stroke="rgba(185,95,45,0.65)" stroke-width="1.25"/>
<circle cx="688.83" cy="219.65" r="3.0" fill="rgba(230,106,30,0.18)" stroke="rgba(185,95,45,0.65)" stroke-width="1.25"/>
<circle cx="702.81" cy="221.94" r="3.0" fill="rgba(230,106,30,0.18)" stroke="rgba(185,95,45,0.65)" stroke-width="1.25"/>
<circle cx="716.78" cy="217.61" r="3.0" fill="rgba(230,106,30,0.18)" stroke="rgba(185,95,45,0.65)" stroke-width="1.25"/>
<circle cx="730.76" cy="215.70" r="3.0" fill="rgba(230,106,30,0.18)" stroke="rgba(185,95,45,0.65)" stroke-width="1.25"/>
<circle cx="744.74" cy="216.21" r="3.0" fill="rgba(230,106,30,0.18)" stroke="rgba(185,95,45,0.65)" stroke-width="1.25"/>
<circle cx="758.71" cy="218.63" r="3.0" fill="rgba(230,106,30,0.18)" stroke="rgba(185,95,45,0.65)" stroke-width="1.25"/>
<circle cx="772.69" cy="216.85" r="3.0" fill="rgba(230,106,30,0.18)" stroke="rgba(185,95,45,0.65)" stroke-width="1.25"/>
<circle cx="786.66" cy="218.63" r="3.0" fill="rgba(230,106,30,0.18)" stroke="rgba(185,95,45,0.65)" stroke-width="1.25"/>
<circle cx="800.64" cy="217.61" r="3.0" fill="rgba(230,106,30,0.18)" stroke="rgba(185,95,45,0.65)" stroke-width="1.25"/>
<circle cx="814.62" cy="217.86" r="3.0" fill="rgba(230,106,30,0.18)" stroke="rgba(185,95,45,0.65)" stroke-width="1.25"/>
<circle cx="828.59" cy="216.46" r="3.0" fill="rgba(230,106,30,0.18)" stroke="rgba(185,95,45,0.65)" stroke-width="1.25"/>
<circle cx="842.57" cy="212.39" r="3.0" fill="rgba(230,106,30,0.18)" stroke="rgba(185,95,45,0.65)" stroke-width="1.25"/>
<circle cx="856.54" cy="211.62" r="3.0" fill="rgba(230,106,30,0.18)" stroke="rgba(185,95,45,0.65)" stroke-width="1.25"/>
<circle cx="870.52" cy="214.30" r="3.0" fill="rgba(230,106,30,0.18)" stroke="rgba(185,95,45,0.65)" stroke-width="1.25"/>
<circle cx="884.49" cy="218.37" r="3.0" fill="rgba(230,106,30,0.18)" stroke="rgba(185,95,45,0.65)" stroke-width="1.25"/>
<circle cx="898.47" cy="219.39" r="3.0" fill="rgba(230,106,30,0.18)" stroke="rgba(185,95,45,0.65)" stroke-width="1.25"/>
<circle cx="912.45" cy="217.99" r="3.0" fill="rgba(230,106,30,0.18)" stroke="rgba(185,95,45,0.65)" stroke-width="1.25"/>
<circle cx="926.42" cy="215.57" r="3.0" fill="rgba(230,106,30,0.18)" stroke="rgba(185,95,45,0.65)" stroke-width="1.25"/>
<circle cx="940.40" cy="210.22" r="3.0" fill="rgba(230,106,30,0.18)" stroke="rgba(185,95,45,0.65)" stroke-width="1.25"/>
<circle cx="954.37" cy="205.25" r="3.0" fill="rgba(230,106,30,0.18)" stroke="rgba(185,95,45,0.65)" stroke-width="1.25"/>
<circle cx="968.35" cy="205.25" r="3.0" fill="rgba(230,106,30,0.18)" stroke="rgba(185,95,45,0.65)" stroke-width="1.25"/>
<circle cx="982.32" cy="199.39" r="3.0" fill="rgba(230,106,30,0.18)" stroke="rgba(185,95,45,0.65)" stroke-width="1.25"/>
<circle cx="996.30" cy="195.56" r="3.0" fill="rgba(230,106,30,0.18)" stroke="rgba(185,95,45,0.65)" stroke-width="1.25"/>
<polyline points="73.90,256.09 87.88,255.58 101.85,249.59 115.83,245.90 129.80,247.17 143.78,247.17 157.75,248.83 171.73,248.83 185.71,251.89 199.68,251.89 213.66,249.98 227.63,251.38 241.61,251.63 255.58,252.65 269.56,252.91 283.54,249.98 297.51,251.89 311.49,250.74 325.46,248.32 339.44,249.98 353.42,251.63 367.39,248.19 381.37,249.59 395.34,247.05 409.32,249.59 423.29,248.83 437.27,246.15 451.25,246.15 465.22,243.99 479.20,241.95 493.17,238.51 507.15,239.15 521.12,238.13 535.10,233.28 549.08,234.81 563.05,232.90 577.03,234.30 591.00,233.16 604.98,232.90 618.95,234.05 632.93,233.67 646.91,233.67 660.88,233.92 674.86,232.90 688.83,232.01 702.81,232.01 716.78,231.63 730.76,232.01 744.74,232.01 758.71,232.01 772.69,232.52 786.66,231.63 800.64,231.12 814.62,231.12 828.59,231.12 842.57,230.23 856.54,230.23 870.52,230.23 884.49,228.44 898.47,228.31 912.45,225.64 926.42,223.85 940.40,224.62 954.37,226.40 968.35,227.17 982.32,226.02 996.30,226.66" fill="none" stroke="#dd4581" stroke-width="3.2" stroke-linejoin="round" stroke-linecap="round"/>
<circle cx="73.90" cy="256.09" r="3.0" fill="rgba(221,69,129,0.18)" stroke="rgba(175,65,110,0.65)" stroke-width="1.25"/>
<circle cx="87.88" cy="255.58" r="3.0" fill="rgba(221,69,129,0.18)" stroke="rgba(175,65,110,0.65)" stroke-width="1.25"/>
<circle cx="101.85" cy="249.59" r="3.0" fill="rgba(221,69,129,0.18)" stroke="rgba(175,65,110,0.65)" stroke-width="1.25"/>
<circle cx="115.83" cy="245.90" r="3.0" fill="rgba(221,69,129,0.18)" stroke="rgba(175,65,110,0.65)" stroke-width="1.25"/>
<circle cx="129.80" cy="247.17" r="3.0" fill="rgba(221,69,129,0.18)" stroke="rgba(175,65,110,0.65)" stroke-width="1.25"/>
<circle cx="143.78" cy="247.17" r="3.0" fill="rgba(221,69,129,0.18)" stroke="rgba(175,65,110,0.65)" stroke-width="1.25"/>
<circle cx="157.75" cy="248.83" r="3.0" fill="rgba(221,69,129,0.18)" stroke="rgba(175,65,110,0.65)" stroke-width="1.25"/>
<circle cx="171.73" cy="248.83" r="3.0" fill="rgba(221,69,129,0.18)" stroke="rgba(175,65,110,0.65)" stroke-width="1.25"/>
<circle cx="185.71" cy="251.89" r="3.0" fill="rgba(221,69,129,0.18)" stroke="rgba(175,65,110,0.65)" stroke-width="1.25"/>
<circle cx="199.68" cy="251.89" r="3.0" fill="rgba(221,69,129,0.18)" stroke="rgba(175,65,110,0.65)" stroke-width="1.25"/>
<circle cx="213.66" cy="249.98" r="3.0" fill="rgba(221,69,129,0.18)" stroke="rgba(175,65,110,0.65)" stroke-width="1.25"/>
<circle cx="227.63" cy="251.38" r="3.0" fill="rgba(221,69,129,0.18)" stroke="rgba(175,65,110,0.65)" stroke-width="1.25"/>
<circle cx="241.61" cy="251.63" r="3.0" fill="rgba(221,69,129,0.18)" stroke="rgba(175,65,110,0.65)" stroke-width="1.25"/>
<circle cx="255.58" cy="252.65" r="3.0" fill="rgba(221,69,129,0.18)" stroke="rgba(175,65,110,0.65)" stroke-width="1.25"/>
<circle cx="269.56" cy="252.91" r="3.0" fill="rgba(221,69,129,0.18)" stroke="rgba(175,65,110,0.65)" stroke-width="1.25"/>
<circle cx="283.54" cy="249.98" r="3.0" fill="rgba(221,69,129,0.18)" stroke="rgba(175,65,110,0.65)" stroke-width="1.25"/>
<circle cx="297.51" cy="251.89" r="3.0" fill="rgba(221,69,129,0.18)" stroke="rgba(175,65,110,0.65)" stroke-width="1.25"/>
<circle cx="311.49" cy="250.74" r="3.0" fill="rgba(221,69,129,0.18)" stroke="rgba(175,65,110,0.65)" stroke-width="1.25"/>
<circle cx="325.46" cy="248.32" r="3.0" fill="rgba(221,69,129,0.18)" stroke="rgba(175,65,110,0.65)" stroke-width="1.25"/>
<circle cx="339.44" cy="249.98" r="3.0" fill="rgba(221,69,129,0.18)" stroke="rgba(175,65,110,0.65)" stroke-width="1.25"/>
<circle cx="353.42" cy="251.63" r="3.0" fill="rgba(221,69,129,0.18)" stroke="rgba(175,65,110,0.65)" stroke-width="1.25"/>
<circle cx="367.39" cy="248.19" r="3.0" fill="rgba(221,69,129,0.18)" stroke="rgba(175,65,110,0.65)" stroke-width="1.25"/>
<circle cx="381.37" cy="249.59" r="3.0" fill="rgba(221,69,129,0.18)" stroke="rgba(175,65,110,0.65)" stroke-width="1.25"/>
<circle cx="395.34" cy="247.05" r="3.0" fill="rgba(221,69,129,0.18)" stroke="rgba(175,65,110,0.65)" stroke-width="1.25"/>
<circle cx="409.32" cy="249.59" r="3.0" fill="rgba(221,69,129,0.18)" stroke="rgba(175,65,110,0.65)" stroke-width="1.25"/>
<circle cx="423.29" cy="248.83" r="3.0" fill="rgba(221,69,129,0.18)" stroke="rgba(175,65,110,0.65)" stroke-width="1.25"/>
<circle cx="437.27" cy="246.15" r="3.0" fill="rgba(221,69,129,0.18)" stroke="rgba(175,65,110,0.65)" stroke-width="1.25"/>
<circle cx="451.25" cy="246.15" r="3.0" fill="rgba(221,69,129,0.18)" stroke="rgba(175,65,110,0.65)" stroke-width="1.25"/>
<circle cx="465.22" cy="243.99" r="3.0" fill="rgba(221,69,129,0.18)" stroke="rgba(175,65,110,0.65)" stroke-width="1.25"/>
<circle cx="479.20" cy="241.95" r="3.0" fill="rgba(221,69,129,0.18)" stroke="rgba(175,65,110,0.65)" stroke-width="1.25"/>
<circle cx="493.17" cy="238.51" r="3.0" fill="rgba(221,69,129,0.18)" stroke="rgba(175,65,110,0.65)" stroke-width="1.25"/>
<circle cx="507.15" cy="239.15" r="3.0" fill="rgba(221,69,129,0.18)" stroke="rgba(175,65,110,0.65)" stroke-width="1.25"/>
<circle cx="521.12" cy="238.13" r="3.0" fill="rgba(221,69,129,0.18)" stroke="rgba(175,65,110,0.65)" stroke-width="1.25"/>
<circle cx="535.10" cy="233.28" r="3.0" fill="rgba(221,69,129,0.18)" stroke="rgba(175,65,110,0.65)" stroke-width="1.25"/>
<circle cx="549.08" cy="234.81" r="3.0" fill="rgba(221,69,129,0.18)" stroke="rgba(175,65,110,0.65)" stroke-width="1.25"/>
<circle cx="563.05" cy="232.90" r="3.0" fill="rgba(221,69,129,0.18)" stroke="rgba(175,65,110,0.65)" stroke-width="1.25"/>
<circle cx="577.03" cy="234.30" r="3.0" fill="rgba(221,69,129,0.18)" stroke="rgba(175,65,110,0.65)" stroke-width="1.25"/>
<circle cx="591.00" cy="233.16" r="3.0" fill="rgba(221,69,129,0.18)" stroke="rgba(175,65,110,0.65)" stroke-width="1.25"/>
<circle cx="604.98" cy="232.90" r="3.0" fill="rgba(221,69,129,0.18)" stroke="rgba(175,65,110,0.65)" stroke-width="1.25"/>
<circle cx="618.95" cy="234.05" r="3.0" fill="rgba(221,69,129,0.18)" stroke="rgba(175,65,110,0.65)" stroke-width="1.25"/>
<circle cx="632.93" cy="233.67" r="3.0" fill="rgba(221,69,129,0.18)" stroke="rgba(175,65,110,0.65)" stroke-width="1.25"/>
<circle cx="646.91" cy="233.67" r="3.0" fill="rgba(221,69,129,0.18)" stroke="rgba(175,65,110,0.65)" stroke-width="1.25"/>
<circle cx="660.88" cy="233.92" r="3.0" fill="rgba(221,69,129,0.18)" stroke="rgba(175,65,110,0.65)" stroke-width="1.25"/>
<circle cx="674.86" cy="232.90" r="3.0" fill="rgba(221,69,129,0.18)" stroke="rgba(175,65,110,0.65)" stroke-width="1.25"/>
<circle cx="688.83" cy="232.01" r="3.0" fill="rgba(221,69,129,0.18)" stroke="rgba(175,65,110,0.65)" stroke-width="1.25"/>
<circle cx="702.81" cy="232.01" r="3.0" fill="rgba(221,69,129,0.18)" stroke="rgba(175,65,110,0.65)" stroke-width="1.25"/>
<circle cx="716.78" cy="231.63" r="3.0" fill="rgba(221,69,129,0.18)" stroke="rgba(175,65,110,0.65)" stroke-width="1.25"/>
<circle cx="730.76" cy="232.01" r="3.0" fill="rgba(221,69,129,0.18)" stroke="rgba(175,65,110,0.65)" stroke-width="1.25"/>
<circle cx="744.74" cy="232.01" r="3.0" fill="rgba(221,69,129,0.18)" stroke="rgba(175,65,110,0.65)" stroke-width="1.25"/>
<circle cx="758.71" cy="232.01" r="3.0" fill="rgba(221,69,129,0.18)" stroke="rgba(175,65,110,0.65)" stroke-width="1.25"/>
<circle cx="772.69" cy="232.52" r="3.0" fill="rgba(221,69,129,0.18)" stroke="rgba(175,65,110,0.65)" stroke-width="1.25"/>
<circle cx="786.66" cy="231.63" r="3.0" fill="rgba(221,69,129,0.18)" stroke="rgba(175,65,110,0.65)" stroke-width="1.25"/>
<circle cx="800.64" cy="231.12" r="3.0" fill="rgba(221,69,129,0.18)" stroke="rgba(175,65,110,0.65)" stroke-width="1.25"/>
<circle cx="814.62" cy="231.12" r="3.0" fill="rgba(221,69,129,0.18)" stroke="rgba(175,65,110,0.65)" stroke-width="1.25"/>
<circle cx="828.59" cy="231.12" r="3.0" fill="rgba(221,69,129,0.18)" stroke="rgba(175,65,110,0.65)" stroke-width="1.25"/>
<circle cx="842.57" cy="230.23" r="3.0" fill="rgba(221,69,129,0.18)" stroke="rgba(175,65,110,0.65)" stroke-width="1.25"/>
<circle cx="856.54" cy="230.23" r="3.0" fill="rgba(221,69,129,0.18)" stroke="rgba(175,65,110,0.65)" stroke-width="1.25"/>
<circle cx="870.52" cy="230.23" r="3.0" fill="rgba(221,69,129,0.18)" stroke="rgba(175,65,110,0.65)" stroke-width="1.25"/>
<circle cx="884.49" cy="228.44" r="3.0" fill="rgba(221,69,129,0.18)" stroke="rgba(175,65,110,0.65)" stroke-width="1.25"/>
<circle cx="898.47" cy="228.31" r="3.0" fill="rgba(221,69,129,0.18)" stroke="rgba(175,65,110,0.65)" stroke-width="1.25"/>
<circle cx="912.45" cy="225.64" r="3.0" fill="rgba(221,69,129,0.18)" stroke="rgba(175,65,110,0.65)" stroke-width="1.25"/>
<circle cx="926.42" cy="223.85" r="3.0" fill="rgba(221,69,129,0.18)" stroke="rgba(175,65,110,0.65)" stroke-width="1.25"/>
<circle cx="940.40" cy="224.62" r="3.0" fill="rgba(221,69,129,0.18)" stroke="rgba(175,65,110,0.65)" stroke-width="1.25"/>
<circle cx="954.37" cy="226.40" r="3.0" fill="rgba(221,69,129,0.18)" stroke="rgba(175,65,110,0.65)" stroke-width="1.25"/>
<circle cx="968.35" cy="227.17" r="3.0" fill="rgba(221,69,129,0.18)" stroke="rgba(175,65,110,0.65)" stroke-width="1.25"/>
<circle cx="982.32" cy="226.02" r="3.0" fill="rgba(221,69,129,0.18)" stroke="rgba(175,65,110,0.65)" stroke-width="1.25"/>
<circle cx="996.30" cy="226.66" r="3.0" fill="rgba(221,69,129,0.18)" stroke="rgba(175,65,110,0.65)" stroke-width="1.25"/>
</svg>
</div>
</body></html>
